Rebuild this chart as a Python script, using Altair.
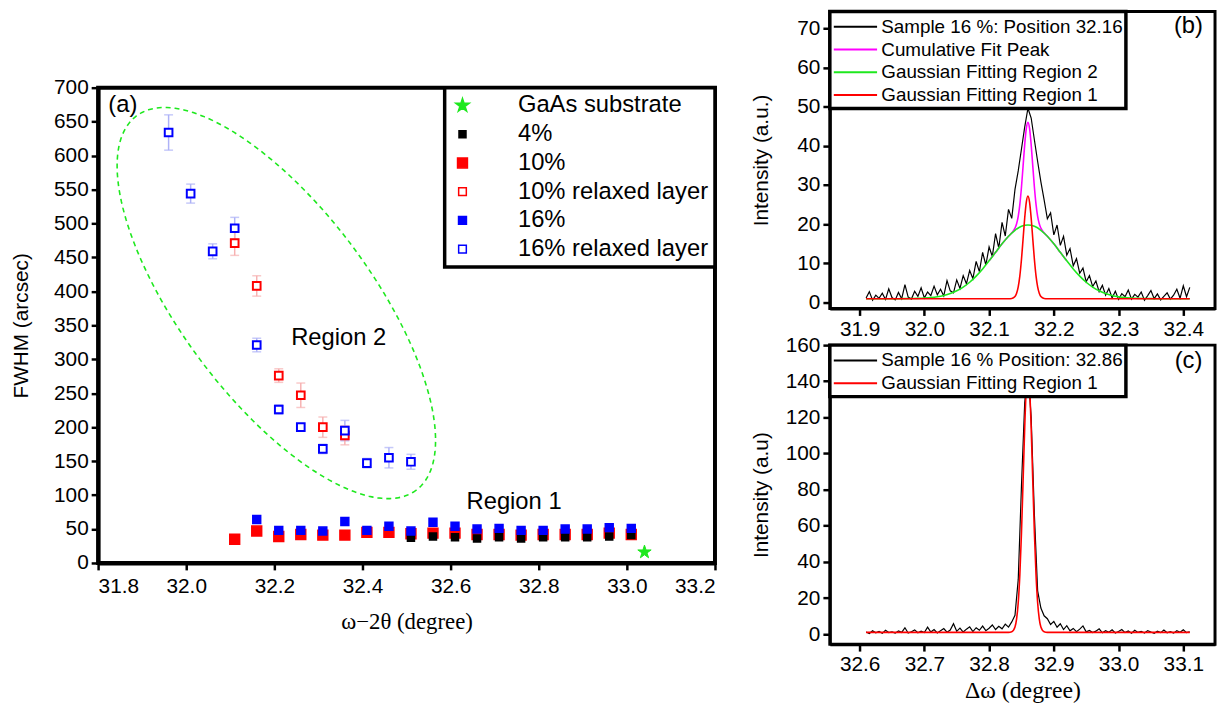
import altair as alt
import numpy as np
import pandas as pd

SANS = "Liberation Sans"
SERIF = "Liberation Serif"
GREEN = "#1ee81e"

# ---------------- panel (a) data ----------------
series_a = ["GaAs substrate", "4%", "10%", "10% relaxed layer", "16%", "16% relaxed layer"]

gaas_x = [33.04]
gaas_y = [16]

s4_x = [32.51, 32.56, 32.61, 32.66, 32.71, 32.76, 32.81, 32.86, 32.91, 32.96, 33.01]
s4_y = [37, 39, 38, 36, 38, 36, 38, 38, 38, 39, 41]

s10_x = [32.11, 32.16, 32.21, 32.26, 32.31, 32.36, 32.41, 32.46, 32.51, 32.56,
         32.61, 32.66, 32.71, 32.76, 32.81, 32.86, 32.91, 32.96, 33.01]
s10_y = [35, 47, 39, 42, 41, 41, 45, 45, 43, 44, 44, 42, 42, 41, 42, 42, 42, 44, 42]

s16_x = [32.16, 32.21, 32.26, 32.31, 32.36, 32.41, 32.46, 32.51, 32.56,
         32.61, 32.66, 32.71, 32.76, 32.81, 32.86, 32.91, 32.96, 33.01]
s16_y = [64, 48, 48, 47, 61, 48, 54, 47, 60, 54, 50, 51, 48, 48, 50, 50, 52, 51]

r10_x = [32.11, 32.16, 32.21, 32.26, 32.31, 32.36]
r10_y = [471, 408, 276, 247, 200, 188]
r10_err = [18, 15, 10, 18, 15, 14]

r16_x = [31.96, 32.01, 32.06, 32.11, 32.16, 32.21, 32.26, 32.31, 32.36, 32.41, 32.46, 32.51]
r16_y = [634, 544, 459, 493, 321, 226, 200, 168, 195, 147, 155, 149]
r16_err = [26, 14, 11, 16, 10, 7, 5, 7, 15, 7, 15, 11]

a_xticks = [31.8, 32.0, 32.2, 32.4, 32.6, 32.8, 33.0, 33.2]
a_yticks = list(range(0, 701, 50))

STAR = ("M0,-1L0.2245,-0.309L0.951,-0.309L0.363,0.118L0.588,0.809L0,0.382"
        "L-0.588,0.809L-0.363,0.118L-0.951,-0.309L-0.2245,-0.309Z")
shape_a = [STAR, "square", "square", "square", "square", "square"]
fill_a = [GREEN, "black", "#ff0000", "white", "#0000ff", "white"]
stroke_a = [GREEN, "black", "#ff0000", "#ff0000", "#0000ff", "#0000ff"]
size_a = [200, 50, 100, 60, 64, 60]

# ---------------- panel (b) data ----------------
curves_b = ["Sample 16 %: Position 32.16", "Cumulative Fit Peak",
            "Gaussian Fitting Region 2", "Gaussian Fitting Region 1"]
colors_b = ["black", "#ff00ff", GREEN, "#ff0000"]

b_data_y = [1.2, 2.8, 0.6, 1.9, 1.1, 2.4, 0.8, 3.5, 1.3, 0.7,
            2.6, 1.0, 4.6, 1.4, 0.9, 2.9, 1.6, 3.8, 1.2, 2.7,
            1.8, 4.2, 2.0, 3.4, 1.7, 5.6, 3.0, 2.5, 5.8, 3.6,
            6.9, 4.8, 8.2, 6.1, 10.5, 7.9, 12.8, 9.6, 14.2, 11.8,
            17.6, 13.9, 20.5, 17.0, 23.8, 21.5, 28.9, 33.6, 39.2, 44.8,
            49.6, 47.1, 41.5, 36.0, 30.8, 26.2, 21.4, 22.9, 17.3, 19.8,
            14.6, 16.9, 12.1, 13.8, 9.4, 11.2, 7.5, 8.8, 5.3, 6.9,
            4.1, 5.5, 2.8, 4.4, 1.9, 3.6, 1.2, 2.9, 0.8, 2.3,
            1.5, 3.2, 0.9, 2.1, 1.4, 2.7, 0.6, 1.8, 3.1, 1.0,
            2.2, 0.7, 1.6, 2.5, 0.9, 1.9, 3.4, 1.1, 4.3, 1.5, 3.9]
b_data_x = [round(31.91 + 0.005 * i, 3) for i in range(len(b_data_y))]

b_fit2_x = [31.91, 31.96, 31.97, 31.98, 31.99, 32.00, 32.01, 32.02, 32.03, 32.04,
            32.05, 32.06, 32.07, 32.08, 32.09, 32.10, 32.11, 32.12, 32.13, 32.14,
            32.15, 32.16, 32.17, 32.18, 32.19, 32.20, 32.21, 32.22, 32.23, 32.24,
            32.25, 32.26, 32.27, 32.28, 32.29, 32.30, 32.31, 32.32, 32.33, 32.34,
            32.35, 32.36, 32.41]
b_fit2_y = [1.0, 1.0, 1.02, 1.05, 1.09, 1.17, 1.29, 1.50, 1.83, 2.31,
            3.01, 3.96, 5.20, 6.76, 8.60, 10.66, 12.84, 14.99, 16.92, 18.46,
            19.46, 19.8, 19.46, 18.46, 16.92, 14.99, 12.84, 10.66, 8.60, 6.76,
            5.20, 3.96, 3.01, 2.31, 1.83, 1.50, 1.29, 1.17, 1.09, 1.05,
            1.02, 1.0, 1.0]

b_fit1_x = [31.91, 32.13, 32.135, 32.14, 32.1425, 32.145, 32.1475, 32.15, 32.1525, 32.155,
            32.1575, 32.16, 32.1625, 32.165, 32.1675, 32.17, 32.1725, 32.175, 32.1775, 32.18,
            32.185, 32.19, 32.41]
b_fit1_y = [1.0, 1.0, 1.06, 1.55, 2.37, 3.99, 6.81, 10.99, 16.23, 21.59,
            25.67, 27.2, 25.67, 21.59, 16.23, 10.99, 6.81, 3.99, 2.37, 1.55,
            1.06, 1.0, 1.0]

b_cum_x = [32.10, 32.11, 32.12, 32.13, 32.135, 32.14, 32.1425, 32.145, 32.1475, 32.15,
           32.1525, 32.155, 32.1575, 32.16, 32.1625, 32.165, 32.1675, 32.17, 32.1725, 32.175,
           32.1775, 32.18, 32.185, 32.19, 32.20, 32.21, 32.22]
b_cum_y = [10.66, 12.84, 14.99, 16.92, 17.81, 19.01, 20.14, 22.02, 25.07, 29.45,
           34.84, 40.30, 44.45, 46.0, 44.45, 40.30, 34.84, 29.45, 25.07, 22.02,
           20.14, 19.01, 17.81, 16.92, 14.99, 12.84, 10.66]

b_xticks = [31.9, 32.0, 32.1, 32.2, 32.3, 32.4]
b_yticks = [0, 10, 20, 30, 40, 50, 60, 70]

# ---------------- panel (c) data ----------------
curves_c = ["Sample 16 % Position: 32.86", "Gaussian Fitting Region 1"]
colors_c = ["black", "#ff0000"]

c_data_y = [1.2, 0.4, 1.9, 0.8, 1.5, 0.5, 2.2, 0.9, 1.3, 0.6,
            1.8, 1.0, 3.6, 0.7, 1.4, 2.4, 0.8, 1.7, 0.9, 3.9,
            1.2, 2.6, 0.7, 1.9, 3.1, 1.1, 2.3, 5.8, 1.6, 3.4,
            1.2, 2.8, 4.1, 1.5, 3.6, 2.2, 4.5, 2.0, 3.3, 5.1,
            2.6, 4.4, 3.0, 5.6, 3.9, 6.8, 10.5, 30.2, 82.0, 128.0,
            147.0, 120.0, 66.0, 24.0, 14.5, 10.2, 8.6, 5.4, 7.1, 3.9,
            5.8, 2.6, 4.7, 1.9, 3.2, 1.4, 2.8, 4.6, 1.3, 2.1,
            0.9, 1.7, 3.0, 0.8, 1.9, 1.1, 2.4, 0.7, 1.5, 2.6,
            0.9, 1.8, 0.6, 2.2, 1.0, 1.6, 0.7, 2.0, 1.2, 0.5,
            1.7, 0.9, 2.3, 0.8, 1.4, 0.6, 1.9, 1.1, 2.5, 0.9, 1.3]
c_data_x = [round(32.61 + 0.005 * i, 3) for i in range(len(c_data_y))]

c_fit1_x = [32.61, 32.83, 32.835, 32.84, 32.8425, 32.845, 32.8475, 32.85, 32.8525, 32.855,
            32.8575, 32.86, 32.8625, 32.865, 32.8675, 32.87, 32.8725, 32.875, 32.8775, 32.88,
            32.885, 32.89, 33.11]
c_fit1_y = [1.0, 1.0, 1.35, 4.0, 8.5, 17.4, 32.9, 55.9, 84.7, 114.2,
            136.6, 145.0, 136.6, 114.2, 84.7, 55.9, 32.9, 17.4, 8.5, 4.0,
            1.35, 1.0, 1.0]

c_xticks = [32.6, 32.7, 32.8, 32.9, 33.0, 33.1]
c_yticks = [0, 20, 40, 60, 80, 100, 120, 140, 160]

# ======================= panel (a) =======================
xa_scale = alt.Scale(domain=[31.8, 33.2], nice=False, zero=False)
ya_scale = alt.Scale(domain=[0, 700], nice=False)
xa_axis = alt.Axis(title="ω−2θ (degree)", values=a_xticks, tickCount=100, format=".1f",
                   titleFont=SERIF, titleFontSize=23, titlePadding=14, labelPadding=6,
                   domainWidth=4)
ya_axis = alt.Axis(title="FWHM (arcsec)", values=a_yticks, tickCount=100, titlePadding=22,
                   domainWidth=4)

leg_a = alt.Legend(title=None, orient="top-right", offset=0, strokeColor="black",
                   fillColor="white", padding=6, labelFontSize=24,
                   labelFont=SANS, labelColor="black", labelOffset=44, rowPadding=5,
                   labelLimit=400, symbolStrokeWidth=1.5)


def enc_a():
    return dict(
        x=alt.X("x:Q", scale=xa_scale, axis=xa_axis),
        y=alt.Y("y:Q", scale=ya_scale, axis=ya_axis),
        shape=alt.Shape("sample:N", scale=alt.Scale(domain=series_a, range=shape_a), legend=leg_a),
        fill=alt.Fill("sample:N", scale=alt.Scale(domain=series_a, range=fill_a), legend=leg_a),
        stroke=alt.Stroke("sample:N", scale=alt.Scale(domain=series_a, range=stroke_a), legend=leg_a),
        size=alt.Size("sample:N", scale=alt.Scale(type="ordinal", domain=series_a, range=size_a),
                      legend=leg_a),
    )


def pts(name, xs, ys, sw):
    df = pd.DataFrame({"x": xs, "y": ys, "sample": name})
    return alt.Chart(df).mark_point(opacity=1, strokeWidth=sw).encode(**enc_a())


def errbars(xs, ys, es, color):
    df = pd.DataFrame({"x": xs, "lo": [y - e for y, e in zip(ys, es)],
                       "hi": [y + e for y, e in zip(ys, es)]})
    base = alt.Chart(df)
    rule = base.mark_rule(color=color, strokeWidth=1.5).encode(
        x=alt.X("x:Q", scale=xa_scale), y=alt.Y("lo:Q", scale=ya_scale), y2="hi:Q")
    cap_lo = base.mark_tick(color=color, orient="horizontal", size=9, thickness=1.5).encode(
        x=alt.X("x:Q", scale=xa_scale), y=alt.Y("lo:Q", scale=ya_scale))
    cap_hi = base.mark_tick(color=color, orient="horizontal", size=9, thickness=1.5).encode(
        x=alt.X("x:Q", scale=xa_scale), y=alt.Y("hi:Q", scale=ya_scale))
    return [rule, cap_lo, cap_hi]


# dashed ellipse annotation (centre, two semi-axis vectors in data units)
t = np.linspace(0, 2 * np.pi, 181)
ell = pd.DataFrame({
    "t": t,
    "x": 32.2045 + 0.3175 * np.cos(t) - 0.1726 * np.sin(t),
    "y": 382.8 - 275.6 * np.cos(t) - 83.7 * np.sin(t),
})
ellipse = alt.Chart(ell).mark_line(color=GREEN, strokeDash=[5, 4], strokeWidth=1.6).encode(
    x=alt.X("x:Q", scale=xa_scale), y=alt.Y("y:Q", scale=ya_scale), order="t:Q")

notes_a = pd.DataFrame({"x": [31.856, 32.346, 32.744], "y": [675, 331, 90],
                        "label": ["(a)", "Region 2", "Region 1"]})
text_a = alt.Chart(notes_a).mark_text(font=SANS, fontSize=24, color="black").encode(
    x=alt.X("x:Q", scale=xa_scale), y=alt.Y("y:Q", scale=ya_scale), text="label:N")

layers_a = [ellipse]
layers_a += errbars(r16_x, r16_y, r16_err, "#aeb2f7")
layers_a += errbars(r10_x, r10_y, r10_err, "#f7b2b2")
layers_a += [
    pts("10%", s10_x, s10_y, 1.5),
    pts("10% relaxed layer", r10_x, r10_y, 2),
    pts("4%", s4_x, s4_y, 1.5),
    pts("16%", s16_x, s16_y, 1.5),
    pts("16% relaxed layer", r16_x, r16_y, 2),
    pts("GaAs substrate", gaas_x, gaas_y, 1),
    text_a,
]
panel_a = alt.layer(*layers_a).properties(
    width=623, height=480, view=alt.ViewBackground(stroke="black", strokeWidth=4))

spacer = alt.Chart(pd.DataFrame({"v": [0]})).mark_point(opacity=0).encode(
    x=alt.X("v:Q", axis=None), y=alt.Y("v:Q", axis=None)
).properties(width=623, height=77, view=alt.ViewBackground(stroke="transparent"))

left = alt.vconcat(spacer, panel_a, spacing=0, bounds="flush").resolve_legend(
    shape="independent", fill="independent", stroke="independent", size="independent")

# ======================= panels (b) and (c) =======================
LINE_SYM = "M-1,0L2.8,0"

xb_scale = alt.Scale(domain=[31.854, 32.449], nice=False, zero=False)
yb_scale = alt.Scale(domain=[-1.5, 74.3], nice=False)
xb_axis = alt.Axis(title=None, values=b_xticks, tickCount=100, format=".1f")
yb_axis = alt.Axis(title="Intensity (a.u.)", values=b_yticks, tickCount=100, titlePadding=26)


def leg_line():
    return alt.Legend(title=None, orient="top-left", offset=0, strokeColor="black",
                      fillColor="white", padding=3, labelFontSize=19,
                      labelFont=SANS, labelColor="black", labelOffset=24, rowPadding=0,
                      labelLimit=400, symbolType=LINE_SYM, symbolStrokeWidth=2,
                      symbolSize=529)


def line_b(name, xs, ys, sw, interp):
    df = pd.DataFrame({"x": xs, "y": ys, "curve_b": name})
    return alt.Chart(df).mark_line(strokeWidth=sw, clip=True, interpolate=interp).encode(
        x=alt.X("x:Q", scale=xb_scale, axis=xb_axis),
        y=alt.Y("y:Q", scale=yb_scale, axis=yb_axis),
        color=alt.Color("curve_b:N", scale=alt.Scale(domain=curves_b, range=colors_b),
                        legend=leg_line()),
    )


label_b = alt.Chart(pd.DataFrame({"x": [32.408], "y": [70.5], "label": ["(b)"]})).mark_text(
    font=SANS, fontSize=24, color="black").encode(
    x=alt.X("x:Q", scale=xb_scale), y=alt.Y("y:Q", scale=yb_scale), text="label:N")

panel_b = alt.layer(
    line_b(curves_b[0], b_data_x, b_data_y, 1.2, "linear"),
    line_b(curves_b[1], b_cum_x, b_cum_y, 1.6, "monotone"),
    line_b(curves_b[2], b_fit2_x, b_fit2_y, 1.6, "monotone"),
    line_b(curves_b[3], b_fit1_x, b_fit1_y, 1.6, "monotone"),
    label_b,
).properties(width=389, height=300, view=alt.ViewBackground(stroke="black", strokeWidth=3))

xc_scale = alt.Scale(domain=[32.554, 33.149], nice=False, zero=False)
yc_scale = alt.Scale(domain=[-5.5, 160], nice=False)
xc_axis = alt.Axis(title="Δω (degree)", values=c_xticks, tickCount=100, format=".1f",
                   titleFont=SERIF, titleFontSize=24, titlePadding=4)
yc_axis = alt.Axis(title="Intensity (a.u)", values=c_yticks, tickCount=100, titlePadding=14)


def line_c(name, xs, ys, sw, interp):
    df = pd.DataFrame({"x": xs, "y": ys, "curve_c": name})
    return alt.Chart(df).mark_line(strokeWidth=sw, clip=True, interpolate=interp).encode(
        x=alt.X("x:Q", scale=xc_scale, axis=xc_axis),
        y=alt.Y("y:Q", scale=yc_scale, axis=yc_axis),
        color=alt.Color("curve_c:N", scale=alt.Scale(domain=curves_c, range=colors_c),
                        legend=leg_line()),
    )


label_c = alt.Chart(pd.DataFrame({"x": [33.108], "y": [151], "label": ["(c)"]})).mark_text(
    font=SANS, fontSize=24, color="black").encode(
    x=alt.X("x:Q", scale=xc_scale), y=alt.Y("y:Q", scale=yc_scale), text="label:N")

panel_c = alt.layer(
    line_c(curves_c[0], c_data_x, c_data_y, 1.2, "linear"),
    line_c(curves_c[1], c_fit1_x, c_fit1_y, 1.6, "monotone"),
    label_c,
).properties(width=389, height=302, view=alt.ViewBackground(stroke="black", strokeWidth=3))

right = alt.vconcat(panel_b, panel_c, spacing=37, bounds="flush").resolve_scale(
    color="independent").resolve_legend(color="independent")

chart = alt.hconcat(left, right, spacing=30).resolve_scale(
    color="independent", shape="independent", fill="independent",
    stroke="independent", size="independent"
).resolve_legend(
    color="independent", shape="independent", fill="independent",
    stroke="independent", size="independent"
).properties(padding={"left": 0, "top": -4, "right": 0, "bottom": 0}).configure_axis(
    labelFont=SANS, labelFontSize=21, labelColor="black", labelOverlap=False,
    titleFont=SANS, titleFontSize=21, titleColor="black", titleFontWeight="normal",
    tickColor="black", tickWidth=2.5, tickSize=7, domainColor="black", domainWidth=3,
    grid=False, labelPadding=3,
).configure_legend(strokeWidth=3.5).configure_view(stroke="black", strokeWidth=3)

chart.save("out.html", embed_options={"renderer": "svg", "actions": False})
